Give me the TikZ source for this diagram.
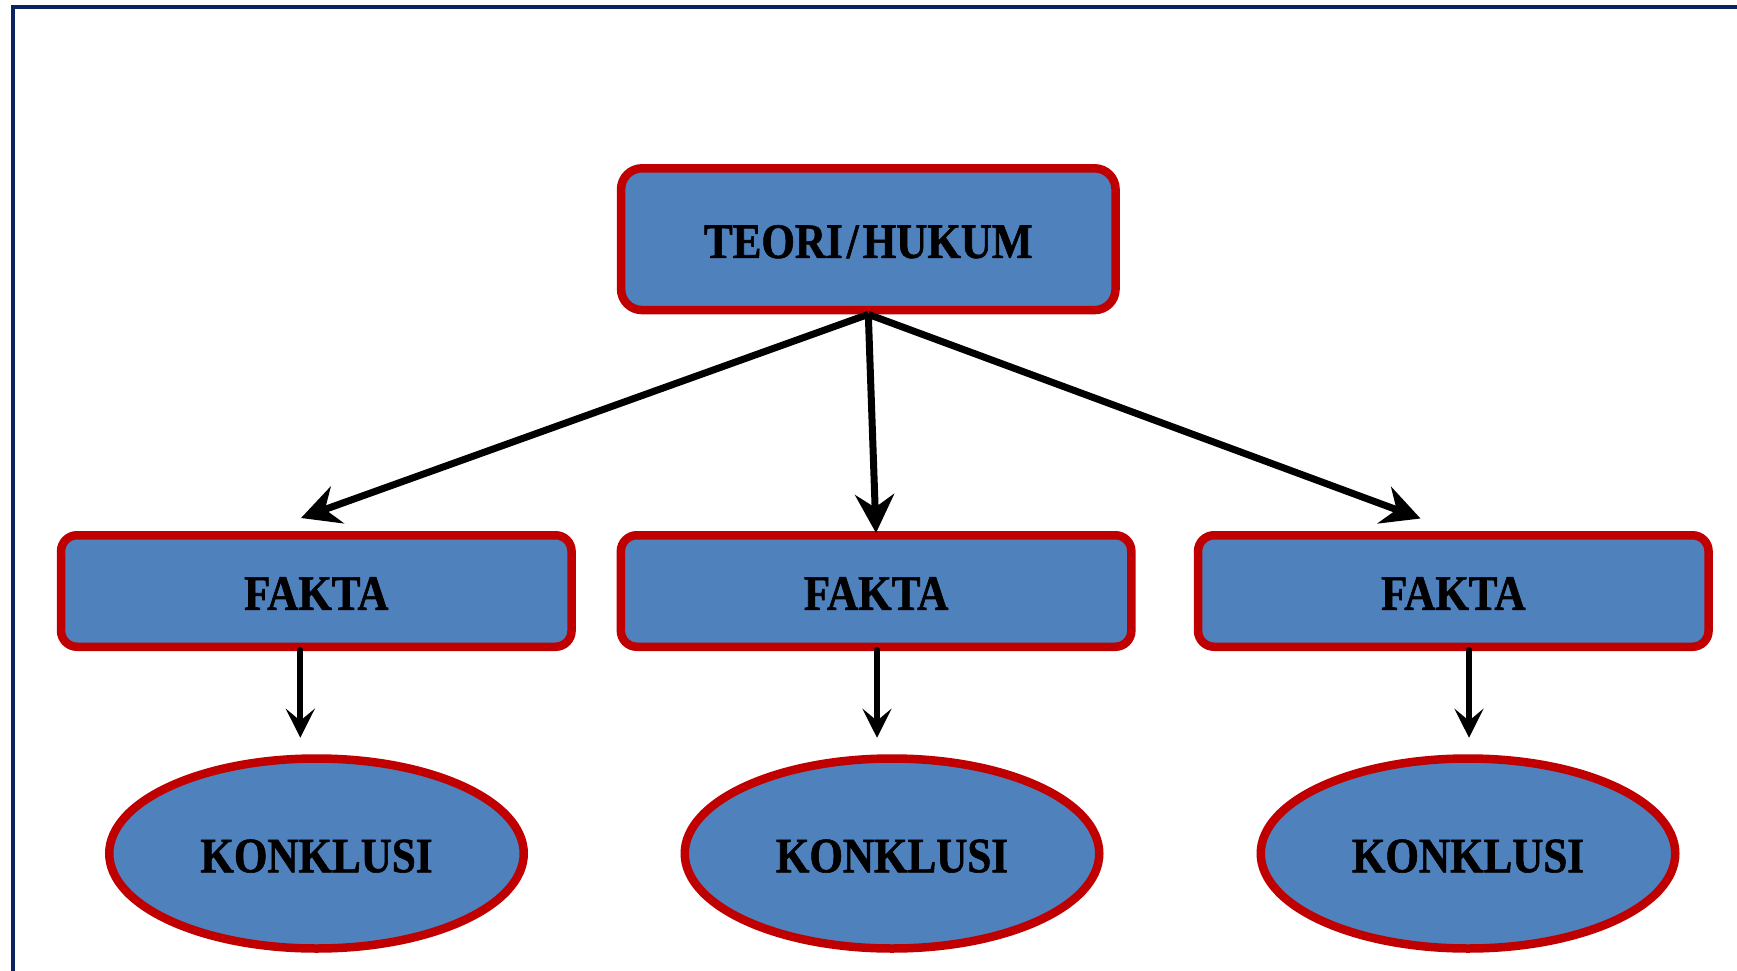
\documentclass[tikz,border=0pt]{standalone}
\usepackage{fontspec}
\setmainfont{Liberation Serif}[FakeStretch=0.87, BoldFeatures={FakeBold=1.2}]
\usetikzlibrary{arrows.meta,shapes.geometric,calc}
\definecolor{boxblue}{HTML}{4F81BD}
\definecolor{boxred}{HTML}{C00000}
\definecolor{frameblue}{HTML}{0B2461}
\begin{document}
\begin{tikzpicture}[x=1pt,y=-1pt,
  lbl/.style={font=\fontsize{49.5}{60}\selectfont\bfseries, text=black, inner sep=0pt, text height=37.5pt, text depth=0pt},
  rbox/.style={lbl, draw=boxred, fill=boxblue, line width=8.5pt, rectangle},
  teoribox/.style={rbox, minimum width=494.5pt, minimum height=141.8pt, rounded corners=21pt},
  faktabox/.style={rbox, minimum width=510.5pt, minimum height=111.5pt, rounded corners=16pt},
  konbox/.style={lbl, ellipse, draw=boxred, fill=boxblue, line width=8.5pt, minimum width=414.5pt, minimum height=190pt},
  toparr/.style={line width=7pt, draw=black, -{Stealth[length=38.5pt,width=39pt,inset=13pt]}},
  downarr/.style={line width=6pt, draw=black, line cap=round, -{Stealth[length=29pt,width=29pt,inset=12pt]}},
  frameline/.style={line width=4pt, draw=frameblue}
]
\useasboundingbox (0,0) rectangle (1737,971);
\draw[frameline] (13,971) -- (13,7) -- (1737,7);

\node[teoribox] (teori) at (868.3,239.2) {TEORI\kern4pt/\kern4pt HUKUM};

\node[faktabox] (f1) at (316.3,591) {FAKTA};
\node[faktabox] (f2) at (876.1,591) {FAKTA};
\node[faktabox] (f3) at (1453.3,591) {FAKTA};

\node[konbox] (k1) at (316.5,853.5) {KONKLUSI};
\node[konbox] (k2) at (892,853.5) {KONKLUSI};
\node[konbox] (k3) at (1468,853.5) {KONKLUSI};

\coordinate (t1) at (301,518);
\coordinate (t2) at (876,533);
\coordinate (t3) at (1420.5,518.5);

\draw[toparr] (teori.south) -- (t1);
\draw[toparr] (teori.south) -- (t2);
\draw[toparr] (teori.south) -- (t3);

\draw[downarr] ($(f1.south)+(-16,-1)$) -- ($(k1.north)+(-16.2,-16.5)$);
\draw[downarr] ($(f2.south)+(0.9,-1)$) -- ($(k2.north)+(-15,-16.5)$);
\draw[downarr] ($(f3.south)+(15.7,-1)$) -- ($(k3.north)+(1,-16.5)$);
\end{tikzpicture}
\end{document}
